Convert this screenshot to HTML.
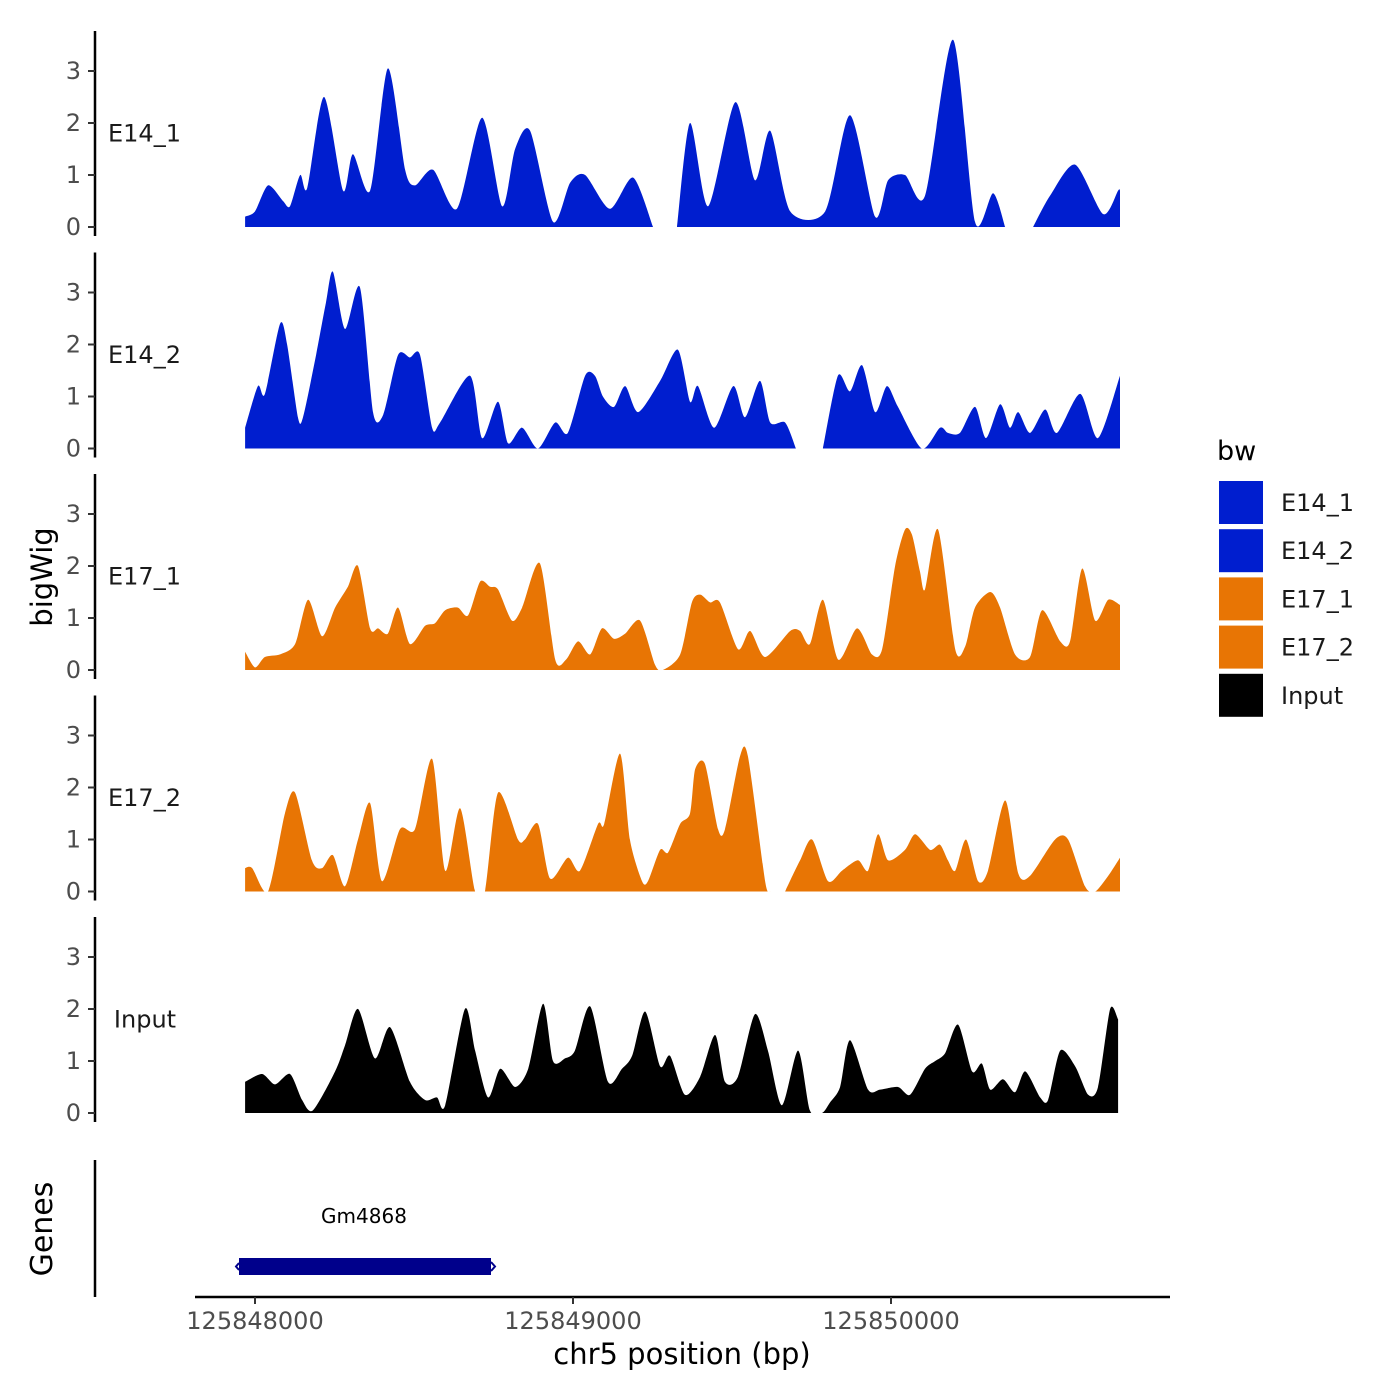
<!DOCTYPE html>
<html><head><meta charset="utf-8"><style>
body{margin:0;background:#fff}
svg{display:block}
text{font-family:"DejaVu Sans","Liberation Sans",sans-serif}
</style></head><body>
<svg id="chart" width="1400" height="1400" viewBox="0 0 1400 1400" xmlns="http://www.w3.org/2000/svg">
<rect width="1400" height="1400" fill="#fff"/>
<defs id="defs"></defs>
<g id="tracks"></g>
<g id="genes">
  <line x1="95" y1="1160" x2="95" y2="1297" stroke="#000" stroke-width="2.5"/>
  <text x="364" y="1223" font-size="20" text-anchor="middle" fill="#000">Gm4868</text>
  <rect id="generect" x="239" y="1258" width="252" height="17" fill="#00008B"/>
  <path d="M239,1263 L236,1266.5 L239,1270 M491,1262 L495,1266.5 L491,1271" stroke="#00008B" stroke-width="2" fill="none"/>
</g>
<g id="xaxis">
  <line x1="195" y1="1297" x2="1170" y2="1297" stroke="#000" stroke-width="2.5"/>
</g>
<text x="682" y="1364" font-size="29" text-anchor="middle" fill="#000">chr5 position (bp)</text>
<text transform="translate(52,577) rotate(-90)" font-size="29" text-anchor="middle" fill="#000">bigWig</text>
<text transform="translate(52,1229) rotate(-90)" font-size="30" text-anchor="middle" fill="#000">Genes</text>
<g id="legend">
  <text x="1217" y="460" font-size="27" fill="#000">bw</text>
</g>
</svg>
<script>
const NS="http://www.w3.org/2000/svg";
const seriesNames=["E14_1","E14_2","E17_1","E17_2","Input"];
const seriesColors=["#001ECF","#001ECF","#E87504","#E87504","#000000"];
const yTicks=[0,1,2,3];
const xTicks=[125848000,125849000,125850000];
const xTickLabels=["125848000","125849000","125850000"];
const BASE=125848000;
const e14_1_pos=[-31,0,41,88,110,142,164,217,277,308,362,418,472,503,560,635,714,777,818,865,937,991,1038,1116,1189,1252,1290,1327,1368,1425,1510,1572,1620,1683,1793,1871,1950,1991,2044,2107,2195,2264,2321,2359,2406,2447,2500,2579,2667,2714,2720];
const e14_1_val=[0.2,0.3,0.8,0.5,0.4,1.0,0.75,2.5,0.7,1.4,0.7,3.05,1.1,0.8,1.1,0.35,2.1,0.4,1.5,1.85,0.1,0.85,1.0,0.35,0.95,0.0,null,0.0,2.0,0.4,2.4,0.9,1.85,0.3,0.3,2.15,0.2,0.9,1.0,0.6,3.6,0.1,0.65,0.0,null,0.0,0.6,1.2,0.25,0.7,0.7];
const e14_2_pos=[-31,9,31,79,101,135,151,192,223,245,283,330,371,403,450,487,519,557,582,676,714,764,796,840,890,944,984,1038,1069,1094,1129,1164,1205,1274,1330,1368,1393,1444,1504,1541,1588,1620,1667,1701,1746,1786,1833,1871,1909,1950,1987,2022,2097,2154,2179,2217,2264,2299,2343,2374,2400,2437,2485,2522,2595,2651,2720];
const e14_2_val=[0.4,1.2,1.05,2.4,2.0,0.6,0.6,1.8,2.8,3.4,2.3,3.1,0.7,0.65,1.8,1.75,1.8,0.4,0.5,1.4,0.2,0.9,0.1,0.4,0.0,0.5,0.3,1.4,1.4,1.0,0.8,1.2,0.7,1.3,1.9,0.9,1.2,0.4,1.2,0.6,1.3,0.5,0.5,0.0,null,0.0,1.4,1.1,1.6,0.7,1.2,0.8,0.0,0.4,0.3,0.3,0.8,0.2,0.85,0.4,0.7,0.3,0.75,0.3,1.05,0.2,1.4];
const e17_1_pos=[-31,0,31,79,126,167,211,252,292,324,362,387,418,450,487,535,566,598,638,670,708,739,764,808,840,896,944,978,1016,1054,1091,1129,1164,1211,1258,1283,1337,1374,1400,1431,1462,1519,1557,1604,1683,1714,1745,1786,1834,1893,1940,1972,2013,2044,2066,2091,2107,2148,2202,2233,2264,2312,2343,2390,2437,2475,2532,2563,2601,2642,2683,2720];
const e17_1_val=[0.35,0.05,0.25,0.3,0.5,1.35,0.65,1.2,1.6,2.0,0.8,0.8,0.7,1.2,0.5,0.85,0.9,1.15,1.2,1.05,1.7,1.6,1.55,0.95,1.2,2.05,0.2,0.2,0.55,0.3,0.8,0.6,0.7,0.95,0.1,0.0,0.3,1.3,1.45,1.3,1.3,0.4,0.75,0.25,0.75,0.75,0.5,1.35,0.2,0.8,0.3,0.4,2.0,2.7,2.6,1.9,1.55,2.7,0.4,0.45,1.2,1.5,1.2,0.3,0.25,1.15,0.55,0.55,1.95,0.95,1.35,1.25];
const e17_2_pos=[-31,-9,41,94,126,179,211,245,283,324,362,399,456,503,557,598,645,692,723,764,827,849,890,928,984,1022,1079,1098,1148,1179,1217,1236,1274,1299,1337,1368,1384,1415,1456,1478,1525,1550,1604,1620,1645,1667,1714,1752,1802,1846,1896,1928,1959,1991,2044,2076,2123,2154,2179,2202,2236,2274,2305,2359,2400,2437,2516,2557,2610,2642,2683,2720];
const e17_2_val=[0.45,0.45,0.0,1.5,1.9,0.6,0.45,0.7,0.1,1.0,1.7,0.2,1.2,1.2,2.55,0.4,1.6,0.0,0.0,1.9,1.0,1.0,1.3,0.25,0.65,0.4,1.3,1.3,2.65,1.0,0.2,0.2,0.8,0.75,1.3,1.5,2.35,2.45,1.2,1.2,2.6,2.6,0.2,0.0,null,0.0,0.6,1.0,0.2,0.4,0.6,0.4,1.1,0.6,0.8,1.1,0.8,0.9,0.6,0.4,1.0,0.2,0.4,1.75,0.35,0.3,1.0,1.0,0.1,0.0,0.3,0.65];
const input_pos=[-31,22,63,110,148,182,252,283,324,377,425,487,535,572,598,660,692,733,771,818,859,906,937,975,1006,1054,1110,1154,1186,1227,1274,1305,1352,1400,1447,1478,1519,1572,1613,1657,1708,1745,1783,1808,1840,1871,1928,1966,2022,2060,2107,2139,2170,2211,2255,2286,2312,2352,2390,2422,2469,2494,2532,2579,2620,2651,2689,2714];
const input_val=[0.6,0.75,0.55,0.75,0.25,0.05,0.8,1.3,2.0,1.05,1.65,0.6,0.25,0.3,0.15,2.0,1.2,0.3,0.85,0.5,0.85,2.1,1.0,1.05,1.2,2.05,0.6,0.85,1.1,1.95,0.9,1.1,0.35,0.7,1.5,0.6,0.7,1.9,1.2,0.15,1.2,0.05,0.0,0.2,0.5,1.4,0.45,0.45,0.5,0.35,0.85,1.0,1.15,1.7,0.8,0.95,0.45,0.65,0.4,0.8,0.3,0.25,1.2,0.9,0.35,0.5,2.0,1.8];
const allPos=[e14_1_pos,e14_2_pos,e17_1_pos,e17_2_pos,input_pos];
const allVal=[e14_1_val,e14_2_val,e17_1_val,e17_2_val,input_val];

function xScale(bp){return 255+(bp-BASE)*0.318;}
function yScale(v,i){return 227+i*221.5-v*52;}
function mk(tag,attrs,parent){const e=document.createElementNS(NS,tag);for(const k in attrs)e.setAttribute(k,attrs[k]);parent.appendChild(e);return e;}
function smoothPath(s){
  let d='';
  for(let k=0;k<s.length-1;k++){
    const p0=s[Math.max(0,k-1)],p1=s[k],p2=s[k+1],p3=s[Math.min(s.length-1,k+2)];
    const t=0.13;
    const c1x=p1[0]+(p2[0]-p0[0])*t, c1y=p1[1]+(p2[1]-p0[1])*t;
    const c2x=p2[0]-(p3[0]-p1[0])*t, c2y=p2[1]-(p3[1]-p1[1])*t;
    d+=' C'+c1x.toFixed(1)+','+c1y.toFixed(1)+' '+c2x.toFixed(1)+','+c2y.toFixed(1)+' '+p2[0].toFixed(1)+','+p2[1].toFixed(1);
  }
  return d;
}

const defs=document.getElementById('defs');
const tracks=document.getElementById('tracks');
seriesNames.forEach((name,i)=>{
  const g=mk('g',{},tracks);
  
  
  const top=31+i*221.5, bot=236+i*221.5;
  const y0=yScale(0,i);
  const cp=mk('clipPath',{id:'clip'+i},defs);
  mk('rect',{x:0,y:top,width:1400,height:y0-top},cp);
  const ax=mk('line',{x1:95,x2:95,y1:top,y2:bot,stroke:'#000','stroke-width':2.5},g);
  
  
  yTicks.forEach(t=>{
    const y=yScale(t,i);
    const tk=mk('line',{x1:88,x2:95,y1:y,y2:y,stroke:'#333','stroke-width':2},g);
    
    
    const tl=mk('text',{x:81,y:y+8,'font-size':24,'text-anchor':'end',fill:'#4D4D4D'},g);
    tl.textContent=t;
    
    
  });
  const lab=mk('text',{x:name==='Input'?145:108,y:yScale(1.8,i)+8,'font-size':24,'text-anchor':name==='Input'?'middle':'start',fill:'#1a1a1a'},g);
  lab.textContent=name;
  
  
  const P=allPos[i],V=allVal[i];
  let seg=[];const segs=[];
  for(let k=0;k<P.length;k++){
    if(V[k]===null){if(seg.length)segs.push(seg);seg=[];}
    else seg.push([xScale(BASE+P[k]),yScale(V[k],i)]);
  }
  if(seg.length)segs.push(seg);
  segs.forEach(s=>{
    let d='M'+s[0][0].toFixed(1)+','+y0.toFixed(1)+' L'+s[0][0].toFixed(1)+','+s[0][1].toFixed(1);
    d+=smoothPath(s);
    d+=' L'+s[s.length-1][0].toFixed(1)+','+y0.toFixed(1)+' Z';
    const a=mk('path',{d:d,fill:seriesColors[i],'clip-path':'url(#clip'+i+')'},g);
    
    
  });
});

const xa=document.getElementById('xaxis');
xTicks.forEach((t,k)=>{
  const x=xScale(t);
  const tk=mk('line',{x1:x,x2:x,y1:1297,y2:1304,stroke:'#333','stroke-width':2},xa);
  
  
  const tl=mk('text',{x:x,y:1329,'font-size':24,'text-anchor':'middle',fill:'#4D4D4D'},xa);
  tl.textContent=xTickLabels[k];
  
  
});

const lg=document.getElementById('legend');
seriesNames.forEach((name,i)=>{
  const y=481+i*48.2;
  const r=mk('rect',{x:1219,y:y,width:44,height:43,fill:seriesColors[i]},lg);
  
  
  const t=mk('text',{x:1281,y:y+30,'font-size':24,fill:'#1a1a1a'},lg);
  t.textContent=name;
  
  
});
</script>
</body></html>
